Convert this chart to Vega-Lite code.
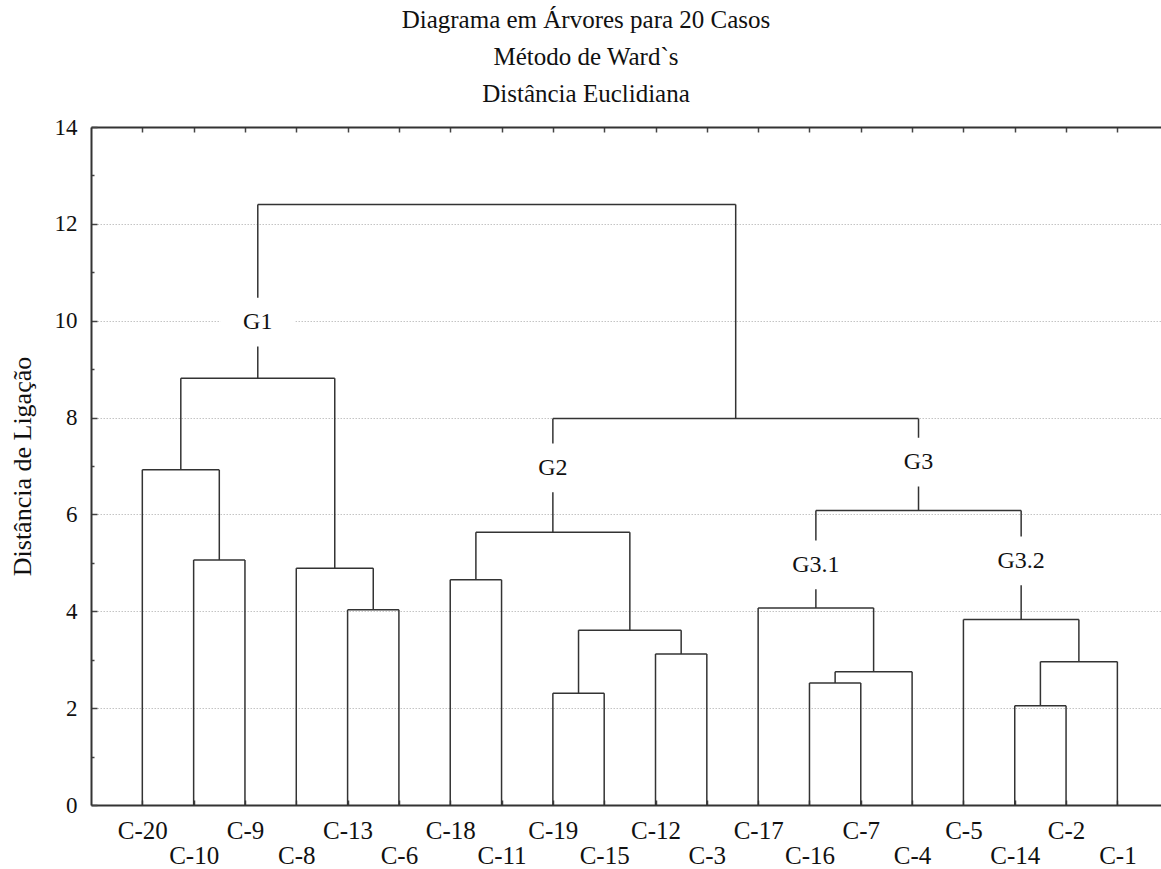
{
  "$schema": "https://vega.github.io/schema/vega-lite/v6.json",
  "width": 1070,
  "height": 678,
  "autosize": "none",
  "padding": {"left": 91, "top": 127, "right": 0, "bottom": 64},
  "background": "white",
  "config": {
    "view": {"stroke": null},
    "font": "Liberation Serif",
    "axis": {"labelFont": "Liberation Serif", "titleFont": "Liberation Serif", "labelColor": "#111", "titleColor": "#111"}
  },
  "title": {
    "text": ["Diagrama em Árvores para 20 Casos", "Método de Ward`s", "Distância Euclidiana"],
    "fontSize": 25,
    "fontWeight": "normal",
    "font": "Liberation Serif",
    "color": "#111",
    "lineHeight": 37,
    "anchor": "middle",
    "dx": -40,
    "offset": 9
  },
  "datasets": {
    "segments": [
      {"x": 2, "x2": 2, "y": 0, "y2": 5.06},
      {"x": 3, "x2": 3, "y": 0, "y2": 5.06},
      {"x": 2, "x2": 3, "y": 5.06, "y2": 5.06},
      {"x": 1, "x2": 1, "y": 0, "y2": 6.92},
      {"x": 2.5, "x2": 2.5, "y": 5.06, "y2": 6.92},
      {"x": 1, "x2": 2.5, "y": 6.92, "y2": 6.92},
      {"x": 5, "x2": 5, "y": 0, "y2": 4.03},
      {"x": 6, "x2": 6, "y": 0, "y2": 4.03},
      {"x": 5, "x2": 6, "y": 4.03, "y2": 4.03},
      {"x": 4, "x2": 4, "y": 0, "y2": 4.89},
      {"x": 5.5, "x2": 5.5, "y": 4.03, "y2": 4.89},
      {"x": 4, "x2": 5.5, "y": 4.89, "y2": 4.89},
      {"x": 1.75, "x2": 1.75, "y": 6.92, "y2": 8.81},
      {"x": 4.75, "x2": 4.75, "y": 4.89, "y2": 8.81},
      {"x": 1.75, "x2": 4.75, "y": 8.81, "y2": 8.81},
      {"x": 7, "x2": 7, "y": 0, "y2": 4.65},
      {"x": 8, "x2": 8, "y": 0, "y2": 4.65},
      {"x": 7, "x2": 8, "y": 4.65, "y2": 4.65},
      {"x": 9, "x2": 9, "y": 0, "y2": 2.31},
      {"x": 10, "x2": 10, "y": 0, "y2": 2.31},
      {"x": 9, "x2": 10, "y": 2.31, "y2": 2.31},
      {"x": 11, "x2": 11, "y": 0, "y2": 3.12},
      {"x": 12, "x2": 12, "y": 0, "y2": 3.12},
      {"x": 11, "x2": 12, "y": 3.12, "y2": 3.12},
      {"x": 9.5, "x2": 9.5, "y": 2.31, "y2": 3.61},
      {"x": 11.5, "x2": 11.5, "y": 3.12, "y2": 3.61},
      {"x": 9.5, "x2": 11.5, "y": 3.61, "y2": 3.61},
      {"x": 7.5, "x2": 7.5, "y": 4.65, "y2": 5.63},
      {"x": 10.5, "x2": 10.5, "y": 3.61, "y2": 5.63},
      {"x": 7.5, "x2": 10.5, "y": 5.63, "y2": 5.63},
      {"x": 14, "x2": 14, "y": 0, "y2": 2.52},
      {"x": 15, "x2": 15, "y": 0, "y2": 2.52},
      {"x": 14, "x2": 15, "y": 2.52, "y2": 2.52},
      {"x": 14.5, "x2": 14.5, "y": 2.52, "y2": 2.75},
      {"x": 16, "x2": 16, "y": 0, "y2": 2.75},
      {"x": 14.5, "x2": 16, "y": 2.75, "y2": 2.75},
      {"x": 13, "x2": 13, "y": 0, "y2": 4.07},
      {"x": 15.25, "x2": 15.25, "y": 2.75, "y2": 4.07},
      {"x": 13, "x2": 15.25, "y": 4.07, "y2": 4.07},
      {"x": 18, "x2": 18, "y": 0, "y2": 2.05},
      {"x": 19, "x2": 19, "y": 0, "y2": 2.05},
      {"x": 18, "x2": 19, "y": 2.05, "y2": 2.05},
      {"x": 18.5, "x2": 18.5, "y": 2.05, "y2": 2.96},
      {"x": 20, "x2": 20, "y": 0, "y2": 2.96},
      {"x": 18.5, "x2": 20, "y": 2.96, "y2": 2.96},
      {"x": 17, "x2": 17, "y": 0, "y2": 3.83},
      {"x": 19.25, "x2": 19.25, "y": 2.96, "y2": 3.83},
      {"x": 17, "x2": 19.25, "y": 3.83, "y2": 3.83},
      {"x": 14.125, "x2": 14.125, "y": 4.07, "y2": 6.08},
      {"x": 18.125, "x2": 18.125, "y": 3.83, "y2": 6.08},
      {"x": 14.125, "x2": 18.125, "y": 6.08, "y2": 6.08},
      {"x": 9, "x2": 9, "y": 5.63, "y2": 7.98},
      {"x": 16.125, "x2": 16.125, "y": 6.08, "y2": 7.98},
      {"x": 9, "x2": 16.125, "y": 7.98, "y2": 7.98},
      {"x": 3.25, "x2": 3.25, "y": 8.81, "y2": 12.4},
      {"x": 12.5625, "x2": 12.5625, "y": 7.98, "y2": 12.4},
      {"x": 3.25, "x2": 12.5625, "y": 12.4, "y2": 12.4}
    ],
    "labels": [
      {"label": "G1", "x": 3.25, "y": 9.97},
      {"label": "G2", "x": 9, "y": 6.96},
      {"label": "G3", "x": 16.125, "y": 7.08},
      {"label": "G3.1", "x": 14.125, "y": 4.96},
      {"label": "G3.2", "x": 18.125, "y": 5.04}
    ]
  },
  "layer": [
    {
      "data": {"name": "segments"},
      "mark": {"type": "rule", "color": "#333", "strokeWidth": 1.5},
      "encoding": {
        "x": {
          "field": "x", "type": "quantitative",
          "scale": {"domain": [0, 20.85], "nice": false, "zero": false},
          "axis": {
            "orient": "bottom",
            "title": null,
            "values": [1,2,3,4,5,6,7,8,9,10,11,12,13,14,15,16,17,18,19,20],
            "labelExpr": "['','C-20','C-10','C-9','C-8','C-13','C-6','C-18','C-11','C-19','C-15','C-12','C-3','C-17','C-16','C-7','C-4','C-5','C-14','C-2','C-1'][datum.value]",
            "labelFontSize": 25,
            "labelAlign": "center",
            "labelBaseline": "top",
            "labelPadding": {"condition": {"test": "datum.value % 2 === 1", "value": 18.5}, "value": 43.5},
            "tickSize": -5,
            "tickColor": "#444",
            "tickWidth": 1.5,
            "domainColor": "#333",
            "domainWidth": 2,
            "grid": false,
            "labelFlush": false,
            "labelOverlap": false
          }
        },
        "x2": {"field": "x2"},
        "y": {
          "field": "y", "type": "quantitative",
          "scale": {"domain": [0, 14], "nice": false, "zero": true},
          "axis": {
            "title": "Distância de Ligação",
            "titleFontSize": 26,
            "titleFontWeight": "normal",
            "titlePadding": 19,
            "values": [0,1,2,3,4,5,6,7,8,9,10,11,12,13,14],
            "labelExpr": "datum.value % 2 === 0 ? datum.label : ''",
            "labelFontSize": 23,
            "labelPadding": 20,
            "tickSize": {"condition": {"test": "datum.value % 2 === 0", "value": -6}, "value": -3},
            "tickColor": "#444",
            "tickWidth": 1.5,
            "domainColor": "#333",
            "domainWidth": 2,
            "grid": true,
            "gridColor": "#c4c4c4",
            "gridDash": [1.5, 1.5],
            "gridWidth": 1,
            "gridOpacity": {"condition": {"test": "datum.value % 2 === 0 && datum.value > 0 && datum.value < 14", "value": 1}, "value": 0},
            "labelOverlap": false,
            "labelFlush": false
          }
        },
        "y2": {"field": "y2"}
      }
    },
    {
      "data": {"name": "labels"},
      "mark": {"type": "point", "shape": "M-1,-0.65H1V0.65H-1Z", "filled": true, "color": "white", "opacity": 1, "size": 5625, "strokeWidth": 0},
      "encoding": {
        "x": {
          "field": "x", "type": "quantitative",
          "axis": {
            "orient": "top",
            "title": null,
            "values": [1,2,3,4,5,6,7,8,9,10,11,12,13,14,15,16,17,18,19,20],
            "labels": false,
            "tickSize": -5,
            "tickColor": "#444",
            "tickWidth": 1.5,
            "domainColor": "#333",
            "domainWidth": 2,
            "grid": false
          }
        },
        "y": {"field": "y", "type": "quantitative"}
      }
    },
    {
      "data": {"name": "labels"},
      "mark": {"type": "text", "fontSize": 24, "font": "Liberation Serif", "color": "#111", "align": "center", "baseline": "middle"},
      "encoding": {
        "x": {"field": "x", "type": "quantitative", "axis": null},
        "y": {"field": "y", "type": "quantitative"},
        "text": {"field": "label"}
      }
    }
  ],
  "resolve": {"axis": {"x": "independent"}}
}
